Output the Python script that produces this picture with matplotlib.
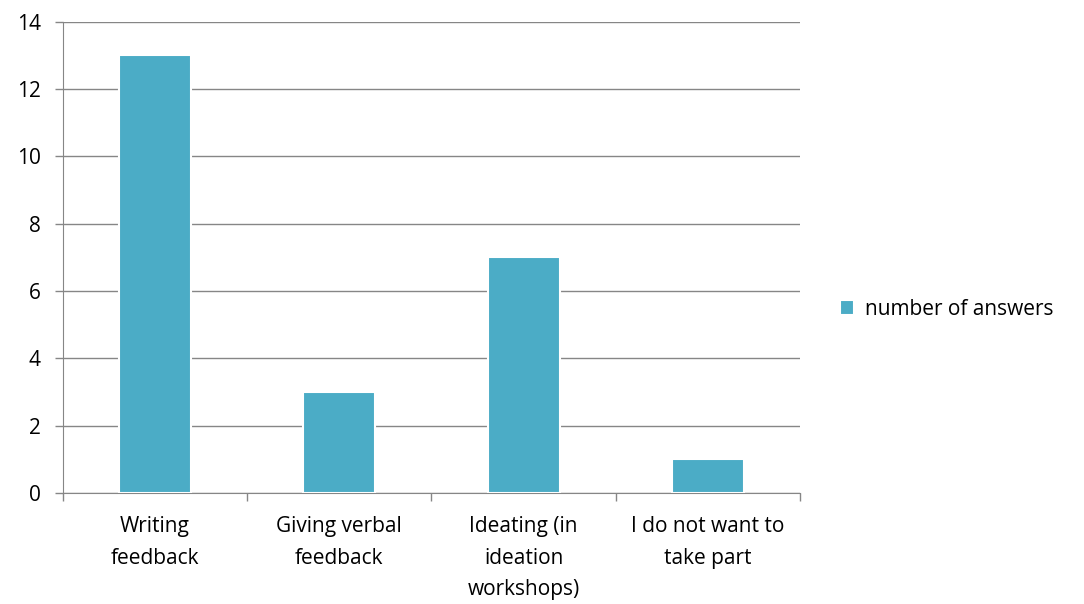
import matplotlib
matplotlib.use("Agg")
from matplotlib import pyplot as plt
import numpy as np

categories = ["Writing\nfeedback", "Giving verbal\nfeedback",
              "Ideating (in\nideation\nworkshops)", "I do not want to\ntake part"]
answers = [13, 3, 7, 1]
series_name = "number of answers"

plt.rcParams["font.family"] = ["Open Sans", "DejaVu Sans"]
plt.rcParams["font.size"] = 15

fig = plt.figure(figsize=(10.84, 6.04), dpi=100)
ax = fig.add_axes([0.058, 0.184, 0.680, 0.78])

x = np.arange(len(categories))
ax.bar(x, answers, width=0.39, color="#4BACC6", edgecolor="white",
       linewidth=1.5, label=series_name, zorder=3)

ax.set_xlim(-0.5, len(categories) - 0.5)
ax.set_ylim(0, 14)
ax.set_yticks(range(0, 15, 2))
ax.yaxis.grid(True, color="#868686", linewidth=1, zorder=0)

# category labels centered, tick marks at category boundaries
ax.set_xticks(x)
ax.set_xticklabels(categories, linespacing=1.65)
ax.tick_params(axis="x", length=0, pad=17)
ax.set_xticks(np.arange(-0.5, len(categories)), minor=True)
ax.tick_params(axis="x", which="minor", length=6, color="#868686", width=1)
ax.tick_params(axis="y", length=6, color="#868686", width=1, pad=10)

for s in ["top", "right"]:
    ax.spines[s].set_visible(False)
for s in ["left", "bottom"]:
    ax.spines[s].set_color("#868686")

ax.legend(loc="center left", bbox_to_anchor=(1.0, 0.39), frameon=False,
          handlelength=0.7, handleheight=0.7, handletextpad=0.5,
          borderaxespad=1.5)

fig.savefig("out.png", dpi=100)
